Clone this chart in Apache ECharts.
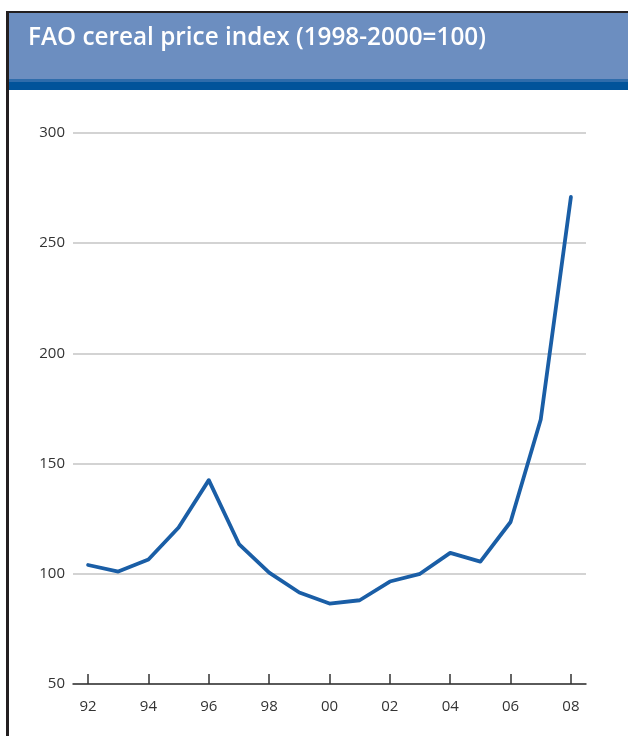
<!DOCTYPE html>
<html>
<head>
<meta charset="utf-8">
<script src="https://cdn.jsdelivr.net/npm/echarts@6/dist/echarts.min.js"></script>
<style>
html,body{margin:0;padding:0;background:#fff;}
#chart{width:628px;height:736px;}
</style>
</head>
<body>
<div id="chart"></div>
<script>
const titleText = 'FAO cereal price index (1998-2000=100)';
const years = ['92','93','94','95','96','97','98','99','00','01','02','03','04','05','06','07','08'];
const index = [104, 101, 106.5, 121, 142.5, 113.5, 100.5, 91.5, 86.5, 88, 96.5, 100, 109.5, 105.5, 123.5, 170, 271];
const yTicks = { min: 50, max: 300, step: 50 };

const chart = echarts.init(document.getElementById('chart'));
chart.setOption({
  animation: false,
  backgroundColor: '#ffffff',
  graphic: [
    { type: 'rect', left: 9, top: 13, shape: { width: 619, height: 66 }, style: { fill: '#6c8ec0' }, z: 0 },
    { type: 'rect', left: 9, top: 79, shape: { width: 619, height: 3 }, style: { fill: '#2f6cab' }, z: 0 },
    { type: 'rect', left: 9, top: 82, shape: { width: 619, height: 8 }, style: { fill: '#01539a' }, z: 0 },
    { type: 'rect', left: 6, top: 11, shape: { width: 622, height: 2 }, style: { fill: '#231f20' }, z: 1 },
    { type: 'rect', left: 6, top: 11, shape: { width: 3, height: 725 }, style: { fill: '#231f20' }, z: 1 },
    { type: 'text', left: 28, top: 26, style: { text: titleText, fill: '#ffffff', font: '600 24.3px "Open Sans"' }, z: 2 }
  ],
  grid: { left: 73, right: 42, top: 133, bottom: 52, containLabel: false },
  xAxis: {
    type: 'category',
    data: years,
    boundaryGap: true,
    axisLine: { show: true, lineStyle: { color: '#333', width: 1.5 } },
    axisTick: { show: true, inside: true, length: 10, interval: 1, alignWithLabel: true, lineStyle: { color: '#333', width: 1.5 } },
    axisLabel: { interval: 1, margin: 15, color: '#333', fontSize: 15, fontFamily: 'Open Sans' },
    splitLine: { show: false }
  },
  yAxis: {
    type: 'value',
    min: yTicks.min, max: yTicks.max, interval: yTicks.step,
    axisLine: { show: false },
    axisTick: { show: false },
    axisLabel: { margin: 8, color: '#333', fontSize: 15, fontFamily: 'Open Sans' },
    splitLine: { show: true, lineStyle: { color: '#c4c4c4', width: 1.5 } }
  },
  series: [{
    type: 'line',
    data: index,
    symbol: 'none',
    lineStyle: { color: '#1a5ea6', width: 3.8, join: 'round', cap: 'round' }
  }]
});
</script>
</body>
</html>
